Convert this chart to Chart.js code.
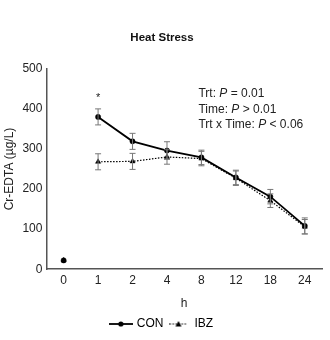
<!DOCTYPE html>
<html>
<head>
<meta charset="utf-8">
<script src="https://cdn.jsdelivr.net/npm/chart.js@4"></script>
<style>
  html, body { margin: 0; padding: 0; background: #fff; }
  #wrap { width: 330px; height: 340px; }
</style>
</head>
<body>
<div id="wrap"><canvas id="heatChart"></canvas></div>
<script>
// hours after dosing
const hours = ["0", "1", "2", "4", "8", "12", "18", "24"];
// Cr-EDTA (µg/L)
const conValues = [22, 380, 319, 296, 279, 229, 181, 108];
const conErrors = [0, 20, 20, 22, 18, 18, 18, 20];
const ibzValues = [22, 268, 269, 280, 276, 227, 171, 106];
const ibzErrors = [0, 20, 20, 18, 18, 18, 17, 18];
// significance marker
const starHour = "1";
const starValue = 435;
const statLines = [
  ["Trt: ", "P", " = 0.01"],
  ["Time: ", "P", " > 0.01"],
  ["Trt x Time: ", "P", " < 0.06"],
];

const FONT = "'Liberation Sans', Arial, sans-serif";

// little legend swatch: line with the marker in the middle
function makeSwatch(dashed, marker, w) {
  const c = document.createElement("canvas");
  c.width = w;
  c.height = 10;
  const g = c.getContext("2d");
  const mid = w / 2;
  g.strokeStyle = "#000";
  g.fillStyle = "#000";
  g.lineWidth = dashed ? 1.2 : 1.8;
  if (dashed) g.setLineDash([1.5, 1.5]);
  g.beginPath();
  g.moveTo(0, 5);
  g.lineTo(w, 5);
  g.stroke();
  g.setLineDash([]);
  g.beginPath();
  if (marker === "circle") {
    g.arc(mid, 5, 2.6, 0, Math.PI * 2);
  } else {
    g.moveTo(mid, 2);
    g.lineTo(mid + 3, 7.5);
    g.lineTo(mid - 3, 7.5);
    g.closePath();
  }
  g.fill();
  return c;
}

const errorBars = {
  id: "errorBars",
  afterDatasetsDraw(chart) {
    const ctx = chart.ctx;
    const y = chart.scales.y;
    const errs = [conErrors, ibzErrors];
    ctx.save();
    ctx.strokeStyle = "#777";
    ctx.lineWidth = 1;
    chart.data.datasets.forEach((ds, di) => {
      const meta = chart.getDatasetMeta(di);
      meta.data.forEach((pt, i) => {
        const e = errs[di][i];
        if (!e) return;
        const top = y.getPixelForValue(ds.data[i] + e);
        const bot = y.getPixelForValue(ds.data[i] - e);
        ctx.beginPath();
        ctx.moveTo(pt.x, top);
        ctx.lineTo(pt.x, bot);
        ctx.moveTo(pt.x - 3, top);
        ctx.lineTo(pt.x + 3, top);
        ctx.moveTo(pt.x - 3, bot);
        ctx.lineTo(pt.x + 3, bot);
        ctx.stroke();
      });
    });
    ctx.restore();
  },
};

const annotations = {
  id: "annotations",
  afterDraw(chart) {
    const ctx = chart.ctx;
    const x = chart.scales.x;
    const y = chart.scales.y;
    const area = chart.chartArea;
    ctx.save();
    ctx.fillStyle = "#222";
    ctx.textBaseline = "middle";
    ctx.textAlign = "center";
    ctx.font = "11px " + FONT;
    ctx.fillText("*", x.getPixelForValue(hours.indexOf(starHour)), y.getPixelForValue(starValue) + 3);

    ctx.textAlign = "left";
    let ty = area.top + 25;
    const tx = area.left + 152;
    statLines.forEach((parts) => {
      let cx = tx;
      parts.forEach((p, k) => {
        ctx.font = (k === 1 ? "italic " : "") + "12px " + FONT;
        ctx.fillText(p, cx, ty);
        cx += ctx.measureText(p).width;
      });
      ty += 15.5;
    });
    ctx.restore();
  },
};

// no connecting segment from baseline (0 h) to 1 h
const skipFirst = (ctx) => (ctx.p0DataIndex === 0 ? "rgba(0,0,0,0)" : undefined);

new Chart(document.getElementById("heatChart"), {
  type: "line",
  data: {
    labels: hours,
    datasets: [
      {
        label: "CON",
        data: conValues,
        borderColor: "#000",
        backgroundColor: "#000",
        borderWidth: 1.8,
        pointStyle: "circle",
        pointRadius: 2.6,
        pointBorderWidth: 0.5,
        tension: 0,
        segment: { borderColor: skipFirst },
      },
      {
        label: "IBZ",
        data: ibzValues,
        borderColor: "#000",
        backgroundColor: "#000",
        borderWidth: 1.2,
        borderDash: [1.5, 1.5],
        pointStyle: "triangle",
        pointRadius: 3,
        pointBorderWidth: 0.5,
        tension: 0,
        segment: { borderColor: skipFirst },
      },
    ],
  },
  options: {
    responsive: true,
    maintainAspectRatio: false,
    animation: false,
    layout: { padding: { left: 2, right: 8, top: 0, bottom: 0 } },
    plugins: {
      title: {
        display: true,
        text: "Heat Stress",
        color: "#111",
        font: { family: FONT, size: 11.5, weight: "bold" },
        padding: { top: 31, bottom: 24 },
      },
      legend: {
        position: "bottom",
        labels: {
          color: "#111",
          font: { family: FONT, size: 12 },
          usePointStyle: true,
          pointStyleWidth: 20,
          boxHeight: 10,
          padding: 5,
          generateLabels() {
            return [
              { text: "CON", pointStyle: makeSwatch(false, "circle", 24), fillStyle: "#000", strokeStyle: "#000", lineWidth: 0, datasetIndex: 0 },
              { text: "IBZ", pointStyle: makeSwatch(true, "triangle", 18), fillStyle: "#000", strokeStyle: "#000", lineWidth: 0, datasetIndex: 1 },
            ];
          },
        },
      },
      tooltip: { enabled: false },
    },
    scales: {
      x: {
        offset: true,
        grid: { display: false, drawTicks: false },
        border: { color: "#555", width: 1.5 },
        ticks: { color: "#222", font: { family: FONT, size: 12 }, padding: 4 },
        title: {
          display: true,
          text: "h",
          color: "#222",
          font: { family: FONT, size: 12 },
          padding: { top: 5, bottom: 2 },
        },
      },
      y: {
        min: 0,
        max: 500,
        ticks: { stepSize: 100, color: "#222", font: { family: FONT, size: 12 }, padding: 4 },
        grid: { display: false, drawTicks: false },
        border: { color: "#555", width: 1.5 },
        title: {
          display: true,
          text: "Cr-EDTA (µg/L)",
          color: "#222",
          font: { family: FONT, size: 12 },
          padding: { top: 0, bottom: 2 },
        },
      },
    },
  },
  plugins: [errorBars, annotations],
});
</script>
</body>
</html>
